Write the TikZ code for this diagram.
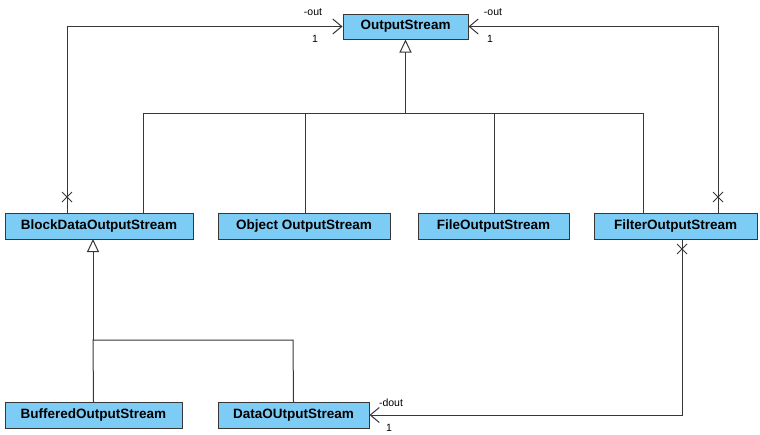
\documentclass[tikz,border=0pt]{standalone}
\usepackage{fontspec}
\setmainfont{Liberation Sans}
\usetikzlibrary{arrows.meta,calc}
\definecolor{classfill}{RGB}{125,204,246}
\definecolor{edge}{RGB}{55,55,55}
\tikzset{
  cls/.style={draw=edge, line width=1pt, fill=classfill, inner sep=0pt,
    font=\bfseries\fontsize{13.5}{15}\selectfont},
  rel/.style={draw=edge, line width=1pt, line join=miter, line cap=rect},
  gen/.style={rel, line cap=butt, -{Triangle[open, width=12pt, length=13pt, fill=white]}},
  nav/.style={rel, line cap=butt, -{Straight Barb[width=15pt, length=9pt, line width=1pt]}},
  role/.style={font=\fontsize{10.5}{12}\selectfont, inner sep=0pt},
  cross/.style={draw=edge, line width=1pt}
}
\newcommand{\xmark}[1]{%
  \draw[cross] ($(#1)+(-5pt,-5pt)$) -- ($(#1)+(5pt,5pt)$)
               ($(#1)+(-5pt,5pt)$) -- ($(#1)+(5pt,-5pt)$);}
\begin{document}
\begin{tikzpicture}[x=1pt, y=-1pt]
\useasboundingbox (0,0) rectangle (760,434);

% classes
\node[cls, minimum width=125pt, minimum height=25pt] (os)   at (405.5,26.5) {OutputStream};
\node[cls, minimum width=188pt, minimum height=26pt] (bdos) at (99,226) {BlockDataOutputStream};
\node[cls, minimum width=172pt, minimum height=26pt] (oos)  at (304,226) {Object OutputStream};
\node[cls, minimum width=151pt, minimum height=26pt] (fos)  at (493.5,226) {FileOutputStream};
\node[cls, minimum width=163pt, minimum height=26pt] (fios) at (675.5,226) {FilterOutputStream};
\node[cls, minimum width=177pt, minimum height=26pt] (bos)  at (93.5,415) {BufferedOutputStream};
\node[cls, minimum width=151pt, minimum height=26pt] (dos)  at (293.5,415) {DataOUtputStream};

% generalisation to OutputStream
\coordinate (busA) at (405.5,113);
\draw[gen] (busA) -- (os.south);
\draw[rel] (143,213) -- (143,113) -- (643,113) -- (643,213);
\draw[rel] (305,113) -- (305,213);
\draw[rel] (494,113) -- (494,213);

% generalisation to BlockDataOutputStream
\coordinate (busB) at (93,340);
\draw[gen] (busB) -- (93,239);
\draw[rel] (bos.north) -- (93,340) -- (293,340) -- (dos.north);

% associations "out"
\coordinate (outL) at (67,26.5);
\coordinate (outR) at (718,26.5);
\draw[nav] (67,213) -- (outL) -- (os.west);
\draw[nav] (718,213) -- (outR) -- (os.east);
\xmark{67,197}
\xmark{718,197}
\node[role] (rl1) at (313,12) {-out};
\node[role] (rl2) at (315,39) {1};
\node[role] (rr1) at (493,12) {-out};
\node[role] (rr2) at (490,39) {1};

% association "dout"
\coordinate (doutC) at (682,415);
\draw[nav] (682,239) -- (doutC) -- (dos.east);
\xmark{682,249}
\node[role] (d1) at (391,403) {-dout};
\node[role] (d2) at (389,428) {1};
\end{tikzpicture}
\end{document}
